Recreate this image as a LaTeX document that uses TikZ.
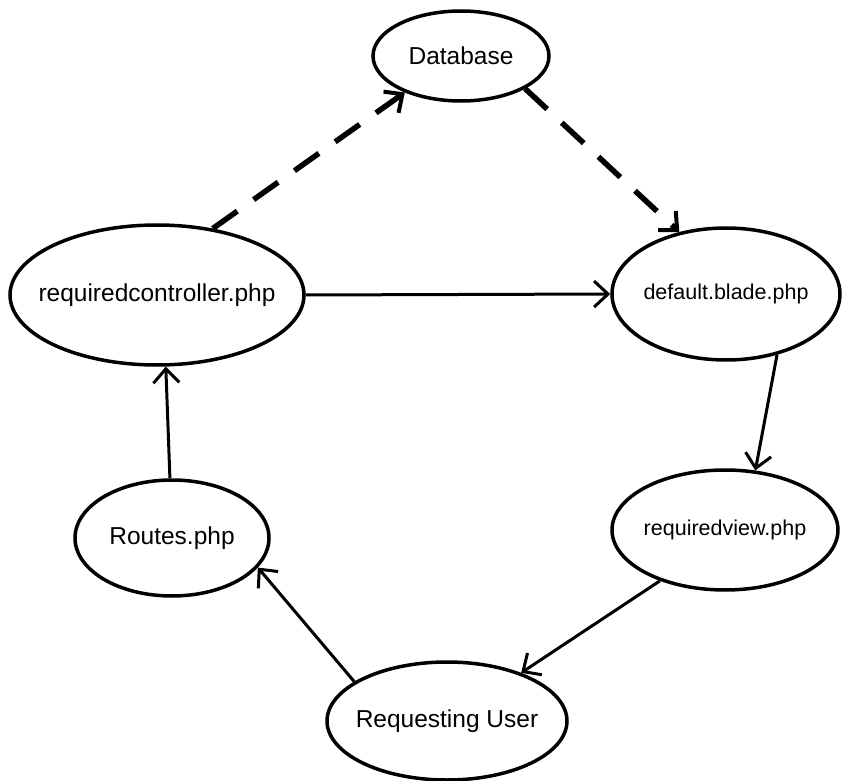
\documentclass[tikz,border=0pt]{standalone}
\usepackage{fontspec}
\setmainfont{Liberation Sans}
\usetikzlibrary{shapes.geometric,arrows.meta}
\begin{document}
\begin{tikzpicture}[x=1pt,y=-1pt,
  el/.style={draw, ellipse, line width=3.5pt, inner sep=0pt},
  txt/.style={font=\fontsize{24.5}{28}\selectfont},
  stxt/.style={font=\fontsize{21.5}{25}\selectfont},
  conn/.style={line width=3pt, -{Straight Barb[length=14pt,width=26pt,line width=3pt]}},
  dconn/.style={line width=5.5pt, dash pattern=on 30pt off 20pt, -{Straight Barb[length=14pt,width=26pt,line width=4pt]}}]
\useasboundingbox (0,0) rectangle (855,781);
\node[el, minimum width=176pt, minimum height=90pt] (db) at (461,56) {};
\node[el, minimum width=294pt, minimum height=140pt] (ctrl) at (157,295) {};
\node[el, minimum width=228pt, minimum height=132pt] (blade) at (726,294) {};
\node[el, minimum width=226pt, minimum height=120pt] (view) at (725,530) {};
\node[el, minimum width=194pt, minimum height=116pt] (routes) at (172,538) {};
\node[el, minimum width=240pt, minimum height=118pt] (user) at (447,721) {};
\node[txt] (tdb) at (db.center) {Database};
\node[txt] (tctrl) at (ctrl.center) {requiredcontroller.php};
\node[stxt] (tblade) at (blade.center) {default.blade.php};
\node[stxt] (tview) at (view.center) {requiredview.php};
\node[txt] (troutes) at (routes.center) {Routes.php};
\node[txt] (tuser) at (user.center) {Requesting User};
\draw[dconn] (ctrl.50) -- (db.213);
\draw[dconn] (db.-27) -- (blade.127);
\draw[conn] (ctrl.east) -- (blade.west);
\draw[conn] (blade.-50) -- (view.63);
\draw[conn] (view.218) -- (user.33);
\draw[conn] (user.157) -- (routes.-19);
\draw[conn] (routes.92) -- (ctrl.-83);
\end{tikzpicture}
\end{document}
